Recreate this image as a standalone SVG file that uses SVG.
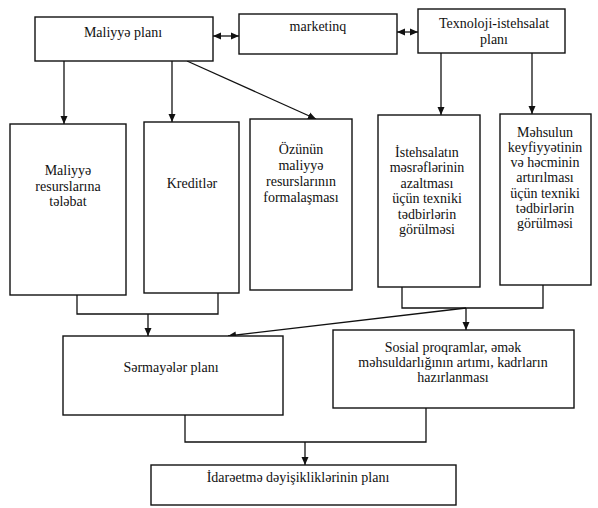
<svg xmlns="http://www.w3.org/2000/svg" width="598" height="508" viewBox="0 0 598 508">
  <style>
    .box { fill: #fff; stroke: #111; stroke-width: 1.4; }
    .lbl { font-family: "Liberation Serif", "DejaVu Serif", serif; font-size: 14px; fill: #111; text-anchor: middle; }
    .wire { fill: none; stroke: #111; stroke-width: 1.3; }
  </style>
  <defs>
    <marker id="arrow" viewBox="0 0 8 8" refX="8" refY="4" markerWidth="8" markerHeight="8" markerUnits="userSpaceOnUse" orient="auto-start-reverse">
      <path d="M0,0.5 L8,4 L0,7.5 Z" fill="#111"/>
    </marker>
  </defs>
  <rect width="598" height="508" fill="#fff"/>

  <g id="connectors">
    <!-- from Maliyyə planı -->
    <path class="wire" d="M64,61 V124" marker-end="url(#arrow)"/>
    <path class="wire" d="M172,61 V122" marker-end="url(#arrow)"/>
    <path class="wire" d="M187,61 L316,119" marker-end="url(#arrow)"/>
    <!-- two-way links in the top row -->
    <path class="wire" d="M213,36 H239" marker-start="url(#arrow)" marker-end="url(#arrow)"/>
    <path class="wire" d="M397,32 H418" marker-start="url(#arrow)" marker-end="url(#arrow)"/>
    <!-- from Texnoloji-istehsalat planı -->
    <path class="wire" d="M441,53 V115" marker-end="url(#arrow)"/>
    <path class="wire" d="M532,53 V114" marker-end="url(#arrow)"/>
    <!-- left bracket to Sərmayələr planı -->
    <path class="wire" d="M77,295 V314 H218 V293"/>
    <path class="wire" d="M148,314 V336" marker-end="url(#arrow)"/>
    <!-- right bracket to Sosial proqramlar -->
    <path class="wire" d="M402,287 V308 H543 V285"/>
    <path class="wire" d="M466,308 V330" marker-end="url(#arrow)"/>
    <path class="wire" d="M466,308 L228,336" marker-end="url(#arrow)"/>
    <!-- bottom bracket to İdarəetmə -->
    <path class="wire" d="M185,415 V442 H426 V408"/>
    <path class="wire" d="M305,442 V465" marker-end="url(#arrow)"/>
  </g>

  <g id="maliyye-plani">
    <rect class="box" x="35" y="17" width="178" height="44"/>
    <text class="lbl" x="123" y="37">Maliyyə planı</text>
  </g>
  <g id="marketinq">
    <rect class="box" x="239" y="14" width="158" height="40"/>
    <text class="lbl" x="318" y="31">marketinq</text>
  </g>
  <g id="texnoloji-plan">
    <rect class="box" x="418" y="9" width="147" height="44"/>
    <text class="lbl" x="494" y="28">Texnoloji-istehsalat</text>
    <text class="lbl" x="494" y="44">planı</text>
  </g>

  <g id="maliyye-resurslarina-telebat">
    <rect class="box" x="10" y="124" width="116" height="171"/>
    <text class="lbl" x="68" y="175">Maliyyə</text>
    <text class="lbl" x="68" y="191">resurslarına</text>
    <text class="lbl" x="68" y="206">tələbat</text>
  </g>
  <g id="kreditler">
    <rect class="box" x="144" y="122" width="95" height="171"/>
    <text class="lbl" x="192" y="188">Kreditlər</text>
  </g>
  <g id="ozunun-resurslari">
    <rect class="box" x="250" y="119" width="102" height="171"/>
    <text class="lbl" x="301" y="154">Özünün</text>
    <text class="lbl" x="301" y="170">maliyyə</text>
    <text class="lbl" x="301" y="186">resurslarının</text>
    <text class="lbl" x="301" y="202">formalaşması</text>
  </g>
  <g id="mesreflerin-azaldilmasi">
    <rect class="box" x="378" y="115" width="102" height="172"/>
    <text class="lbl" x="427" y="157">İstehsalatın</text>
    <text class="lbl" x="427" y="172">məsrəflərinin</text>
    <text class="lbl" x="427" y="188">azaltması</text>
    <text class="lbl" x="427" y="203">üçün texniki</text>
    <text class="lbl" x="427" y="219">tədbirlərin</text>
    <text class="lbl" x="427" y="234">görülməsi</text>
  </g>
  <g id="keyfiyyetin-artirilmasi">
    <rect class="box" x="500" y="114" width="91" height="171"/>
    <text class="lbl" x="545" y="137">Məhsulun</text>
    <text class="lbl" x="545" y="152">keyfiyyətinin</text>
    <text class="lbl" x="545" y="167">və həcminin</text>
    <text class="lbl" x="545" y="182">artırılması</text>
    <text class="lbl" x="545" y="198">üçün texniki</text>
    <text class="lbl" x="545" y="213">tədbirlərin</text>
    <text class="lbl" x="545" y="228">görülməsi</text>
  </g>

  <g id="sermayeler-plani">
    <rect class="box" x="63" y="336" width="220" height="79"/>
    <text class="lbl" x="171" y="372">Sərmayələr planı</text>
  </g>
  <g id="sosial-proqramlar">
    <rect class="box" x="333" y="330" width="241" height="78"/>
    <text class="lbl" x="453" y="352">Sosial proqramlar, əmək</text>
    <text class="lbl" x="453" y="367">məhsuldarlığının artımı, kadrların</text>
    <text class="lbl" x="453" y="382">hazırlanması</text>
  </g>
  <g id="idareetme-plani">
    <rect class="box" x="151" y="465" width="305" height="40"/>
    <text class="lbl" x="298" y="482">İdarəetmə dəyişikliklərinin planı</text>
  </g>
</svg>
